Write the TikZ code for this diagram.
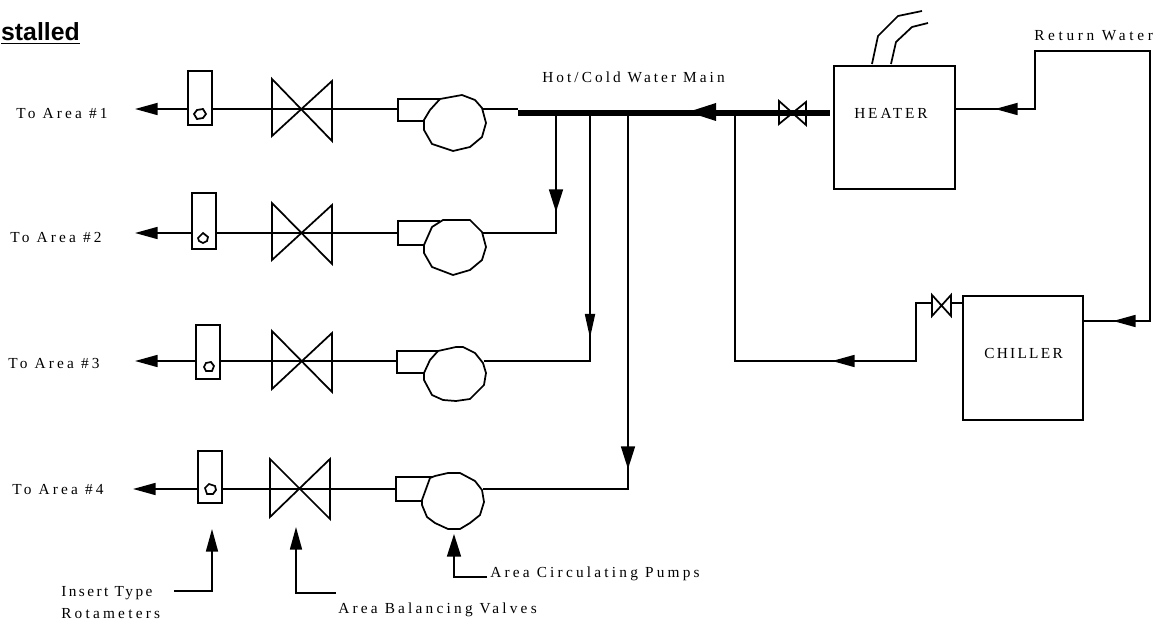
\documentclass[tikz,border=0pt]{standalone}
\usepackage{fontspec}
\setmainfont{Liberation Serif}
\newfontfamily\titlefont{Liberation Sans}
\newcommand\lsp[2]{\addfontfeature{LetterSpace=#1}#2}
\usetikzlibrary{arrows.meta}
\tikzset{
  pipe/.style={line width=1.3pt,black,line cap=butt,line join=miter},
  mainpipe/.style={line width=4.5pt,black},
  tiphead/.style={pipe,-{Triangle[length=17pt,width=9pt]}},
  tipwide/.style={pipe,-{Triangle[length=17pt,width=10.5pt]}},
  tipthin/.style={pipe,-{Triangle[length=18pt,width=7.5pt]}},
  lbl/.style={font=\fontsize{11.5}{13}\selectfont,inner sep=0pt,anchor=base west,text=black},
  equip/.style={draw,line width=1.3pt,inner sep=0pt,fill=none}
}
\begin{document}
\begin{tikzpicture}[x=0.75pt,y=-0.75pt]
\useasboundingbox (0,0) rectangle (1158,620);
% title
\node[inner sep=0pt,anchor=base east,font=\titlefont\bfseries\fontsize{18.6}{21}\selectfont] (ttl) at (80,41) {\underline{stalled}};
% labels
\node[lbl] (a1) at (16,119) {\lsp{21}{To Area \#1}};
\node[lbl] (a2) at (10,243) {\lsp{21}{To Area \#2}};
\node[lbl] (a3) at (8,369) {\lsp{21}{To Area \#3}};
\node[lbl] (a4) at (12,495) {\lsp{21}{To Area \#4}};
\node[lbl] (hc) at (542,83) {\lsp{20}{Hot/Cold Water Main}};
\node[lbl] (rw) at (1034,41) {\lsp{24}{Return Water}};
\node[lbl] (ins) at (61,596) {\lsp{16}{Insert Type}};
\node[lbl] (rot) at (61,618) {\lsp{21}{Rotameters}};
\node[lbl] (abv) at (338,613) {\lsp{21}{Area Balancing Valves}};
\node[lbl] (acp) at (490,577) {\lsp{21}{Area Circulating Pumps}};
% equipment
\node[equip,minimum width=90.75pt,minimum height=92.25pt,anchor=north west] (heater) at (833,65) {};
\node[lbl] (heatertext) at (854,119) {\lsp{19}{HEATER}};
\node[equip,minimum width=90pt,minimum height=93pt,anchor=north west] (chiller) at (962,295) {};
\node[lbl] (chillertext) at (984,359) {\lsp{15}{CHILLER}};
% rotameters
\draw[pipe] (188,71) rectangle (212,125);
\draw[pipe] (192,193) rectangle (216,249);
\draw[pipe] (196,325) rectangle (220,379);
\draw[pipe] (198,451) rectangle (222,503);
\draw[pipe] (194,114) -- (197,110) -- (203,109) -- (206,114) -- (203,118) -- (197,119) -- cycle;
\draw[pipe] (198,238) -- (203,233) -- (208,237) -- (207,241) -- (203,243) -- (199,241) -- cycle;
\draw[pipe] (204,367) -- (206,363) -- (211,362) -- (214,366) -- (212,371) -- (206,371) -- cycle;
\draw[pipe] (205,488) -- (209,484) -- (215,486) -- (216,490) -- (213,494) -- (207,494) -- cycle;
% valves
\draw[pipe] (272,79) -- (332,141) -- (332,81) -- (272,136) -- cycle;
\draw[pipe] (272,203) -- (332,264) -- (332,205) -- (272,260) -- cycle;
\draw[pipe] (272,331) -- (332,392) -- (332,333) -- (272,389) -- cycle;
\draw[pipe] (270,459) -- (330,519) -- (330,459) -- (270,517) -- cycle;
% pumps
\draw[pipe] (440,99) -- (398,99) -- (398,121) -- (424,121);
\draw[pipe] (424,120)--(430,110)--(440,99)--(462,95)--(475,100)--(482,108)--(486,123)--(482,137)--(470,147)--(453,151)--(432,144)--(424,130)--cycle;
\draw[pipe] (440,221) -- (398,221) -- (398,245) -- (424,245);
\draw[pipe] (424,245)--(432,227)--(443,220)--(470,220)--(482,232)--(486,247)--(482,260)--(470,270)--(453,275)--(432,267)--(424,253)--cycle;
\draw[pipe] (438,351) -- (397,351) -- (397,373) -- (424,373);
\draw[pipe] (424,373)--(430,360)--(438,351)--(456,347)--(463,347)--(475,353)--(483,363)--(486,373)--(484,385)--(470,399)--(456,401)--(443,400)--(432,395)--(424,380)--cycle;
\draw[pipe] (433,477) -- (396,477) -- (396,501) -- (422,501);
\draw[pipe] (422,500)--(430,478)--(435,476)--(448,473)--(460,473)--(475,481)--(482,490)--(484,502)--(480,515)--(470,523)--(460,529)--(448,529)--(435,523)--(427,517)--(422,505)--cycle;
% coordinates
\coordinate (r1) at (212,109);\coordinate (r2) at (216,233);\coordinate (r3) at (220,361);\coordinate (r4) at (222,489);
\coordinate (m0) at (518,113);\coordinate (m1) at (830,113);
% row lines
\draw[pipe] (188,109) -- (158,109); \draw[tiphead] (160,109) -- (135,109);
\draw[pipe] (192,233) -- (158,233); \draw[tiphead] (160,233) -- (135,233);
\draw[pipe] (196,361) -- (158,361); \draw[tiphead] (160,361) -- (135,361);
\draw[pipe] (198,489) -- (156,489); \draw[tiphead] (158,489) -- (133,489);
\draw[pipe] (r1) -- (398,109);
\draw[pipe] (r2) -- (398,233);
\draw[pipe] (r3) -- (397,361);
\draw[pipe] (r4) -- (396,489);
\draw[pipe] (482,109) -- (518,109);
% main
\draw[mainpipe] (m0) -- (m1);
\fill (688,112) -- (716,103) -- (716,121) -- cycle;
% small valve on main
\draw[pipe] (779,101) -- (806,125) -- (806,102) -- (779,124) -- cycle;
% branches
\draw[pipe] (482,233) -- (556,233) -- (556,113);
\draw[tipwide] (556,186) -- (556,212);
\draw[pipe] (484,361) -- (590,361) -- (590,113);
\draw[tipthin] (590,311) -- (590,338);
\draw[pipe] (483,489) -- (628,489) -- (628,113);
\draw[tipwide] (628,444) -- (628,469);
% chiller return to main
\draw[pipe] (735,113) -- (735,361) -- (916,361) -- (916,303) -- (932,303);
\draw[tiphead] (858,361) -- (832,361);
\draw[pipe] (932,295) -- (951,316) -- (951,295) -- (932,316) -- cycle;
\draw[pipe] (951,303) -- (chiller.west |- 0,303);
% return water
\draw[pipe] (heater.east |- 0,109) -- (1035,109) -- (1035,51) -- (1150,51) -- (1150,321) -- (chiller.east |- 0,321);
\draw[tiphead] (1018,109) -- (995,109);
\draw[tiphead] (1139,321) -- (1113,321);
% hoses
\draw[pipe] (872,64) -- (878,36) -- (898,16) -- (922,11);
\draw[pipe] (891,64) -- (896,42) -- (912,27) -- (928,23);
% pointers
\draw[pipe] (174,591) -- (212,591) -- (212,550);
\draw[tiphead] (212,556) -- (212,529);
\draw[pipe] (336,593) -- (296,593) -- (296,548);
\draw[tiphead] (296,554) -- (296,527);
\draw[pipe] (487,577) -- (454,577) -- (454,555);
\draw[tipwide] (454,561) -- (454,534);
\end{tikzpicture}
\end{document}
